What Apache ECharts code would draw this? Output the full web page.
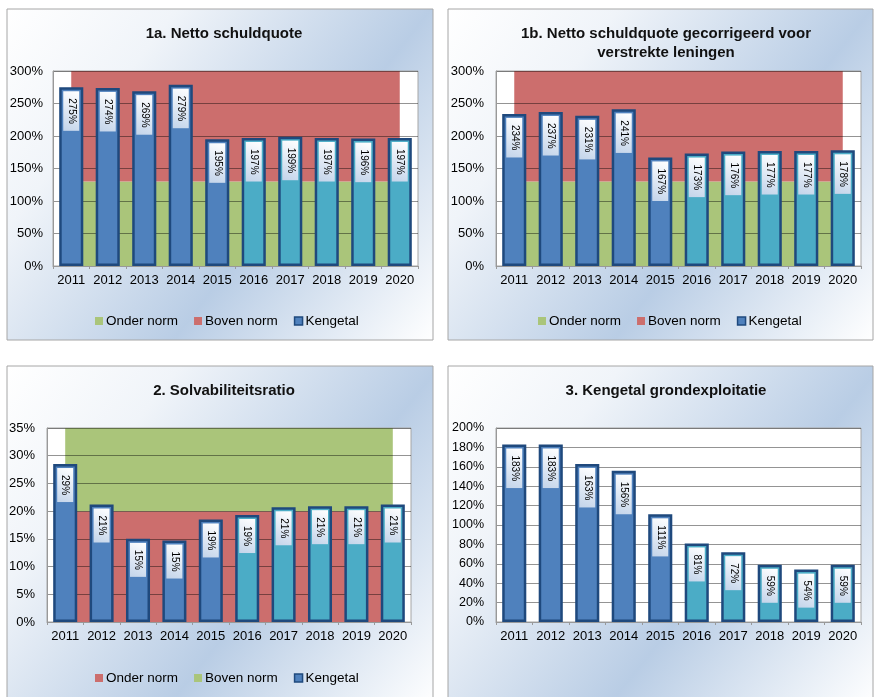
<!DOCTYPE html>
<html>
<head>
<meta charset="utf-8">
<script src="https://cdn.jsdelivr.net/npm/echarts@6/dist/echarts.min.js"></script>
<style>
html,body{margin:0;padding:0;background:#fff;}
#chart{width:875px;height:697px;}
</style>
</head>
<body>
<div id="chart"></div>
<script>
// ---------- DATA ----------
const categories = ['2011','2012','2013','2014','2015','2016','2017','2018','2019','2020'];

// 1a. Netto schuldquote
const kengetal1a = [275, 274, 269, 279, 195, 197, 199, 197, 196, 197];
const onderNorm1a = [130, 130, 130, 130, 130, 130, 130, 130, 130, 130];
const bovenNorm1a = [170, 170, 170, 170, 170, 170, 170, 170, 170, 170];

// 1b. Netto schuldquote gecorrigeerd voor verstrekte leningen
const kengetal1b = [234, 237, 231, 241, 167, 173, 176, 177, 177, 178];
const onderNorm1b = [130, 130, 130, 130, 130, 130, 130, 130, 130, 130];
const bovenNorm1b = [170, 170, 170, 170, 170, 170, 170, 170, 170, 170];

// 2. Solvabiliteitsratio
const kengetal2 = [28.5, 21.2, 15.0, 14.7, 18.5, 19.3, 20.7, 20.9, 20.9, 21.2];
const onderNorm2 = [20, 20, 20, 20, 20, 20, 20, 20, 20, 20];
const bovenNorm2 = [15, 15, 15, 15, 15, 15, 15, 15, 15, 15];

// 3. Kengetal grondexploitatie
const kengetal3 = [183, 183, 163, 156, 111, 81, 72, 59, 54, 59];

// first forecast year (drawn in the second colour)
const firstPrognoseYear = '2016';

const titles = ['1a. Netto schuldquote',
                '1b. Netto schuldquote gecorrigeerd voor\nverstrekte leningen',
                '2. Solvabiliteitsratio',
                '3. Kengetal grondexploitatie'];

// ---------- STYLE ----------
const FONT = "'Liberation Sans', Arial, sans-serif";
const BLUE = '#4F81BD', TEAL = '#4BACC6', NAVY = '#1F497D';
const GREEN = '#AAC57A', RED = '#CC6E6D';
const prognoseIdx = categories.indexOf(firstPrognoseYear);

function panelBg(x, y, w, h) {
  return {
    type: 'rect', z: -10, silent: true,
    shape: {x: x, y: y, width: w, height: h},
    style: {
      fill: {type: 'linear', x: 0, y: 0, x2: 1, y2: 1, colorStops: [
        {offset: 0, color: '#ffffff'},
        {offset: 0.25, color: '#f0f4f9'},
        {offset: 0.62, color: '#b9cde5'},
        {offset: 1, color: '#ffffff'}]},
      stroke: '#a6a6a6', lineWidth: 1
    }
  };
}

const grids = [
  {left: 53, top: 71, width: 365, height: 195},
  {left: 496, top: 71, width: 365, height: 195},
  {left: 47, top: 428, width: 364, height: 194},
  {left: 496, top: 428, width: 365, height: 194}
].map(g => Object.assign(g, {show: true, backgroundColor: '#ffffff', borderColor: '#a6a6a6', borderWidth: 1, z: 0}));

const yRanges = [
  {max: 300, interval: 50, margin: 10, fs: 13},
  {max: 300, interval: 50, margin: 12, fs: 13},
  {max: 35, interval: 5, margin: 12, fs: 13},
  {max: 200, interval: 20, margin: 12, fs: 12.5}
];

const xAxes = grids.map((g, i) => ({
  type: 'category', gridIndex: i, data: categories, z: 2,
  axisLine: {lineStyle: {color: '#999', width: 1}},
  axisTick: {show: true, length: 3, lineStyle: {color: '#999'}},
  axisLabel: {color: '#000', fontSize: 13, fontFamily: FONT, margin: 8, interval: 0}
}));

const yAxes = yRanges.map((r, i) => ({
  type: 'value', gridIndex: i, min: 0, max: r.max, interval: r.interval, z: 2,
  axisLine: {show: true, lineStyle: {color: '#999'}},
  axisTick: {show: false},
  splitLine: {show: true, lineStyle: {color: 'rgba(0,0,0,0.42)', width: 1}},
  axisLabel: {color: '#000', fontSize: r.fs, fontFamily: FONT, margin: r.margin, formatter: '{value}%'}
}));

const labelBg = {type: 'linear', x: 0, y: 0, x2: 1, y2: 1, colorStops: [
  {offset: 0, color: '#ffffff'}, {offset: 1, color: '#c3d4ea'}]};

function barSeries(i, values) {
  return {
    type: 'bar', name: 'Kengetal', xAxisIndex: i, yAxisIndex: i, z: 3,
    barWidth: '66%',
    itemStyle: {color: BLUE, borderColor: NAVY, borderWidth: 2.5},
    data: values.map((v, k) => ({value: v, itemStyle: {color: k >= prognoseIdx ? TEAL : BLUE}})),
    label: {
      show: true, position: 'insideTop', distance: 4, rotate: -90,
      align: 'left', verticalAlign: 'middle',
      formatter: p => Math.round(p.value) + '%',
      fontSize: 10, fontFamily: FONT, color: '#000',
      backgroundColor: labelBg, padding: [3, 7, 3, 7]
    },
    emphasis: {disabled: true}
  };
}

function bandSeries(i, name, values, color, stack) {
  return {
    type: 'line', name: name, xAxisIndex: i, yAxisIndex: i, z: 1,
    stack: stack, data: values, symbol: 'none', showSymbol: false,
    lineStyle: {width: 0}, itemStyle: {color: color},
    areaStyle: {color: color, opacity: 1},
    emphasis: {disabled: true}, silent: true
  };
}

function legend(left, top, items) {
  return {
    left: left, top: top, orient: 'horizontal', selectedMode: false,
    itemWidth: 8, itemHeight: 8, itemGap: 16,
    textStyle: {color: '#000', fontSize: 13.5, fontFamily: FONT, padding: [0, 0, 0, -2]},
    data: items
  };
}

const legendItems1 = [
  {name: 'Onder norm', icon: 'rect', itemStyle: {color: GREEN, borderWidth: 0}},
  {name: 'Boven norm', icon: 'rect', itemStyle: {color: RED, borderWidth: 0}},
  {name: 'Kengetal', icon: 'rect', itemStyle: {color: BLUE, borderColor: NAVY, borderWidth: 1.5}}
];
const legendItems2 = [
  {name: 'Onder norm', icon: 'rect', itemStyle: {color: RED, borderWidth: 0}},
  {name: 'Boven norm', icon: 'rect', itemStyle: {color: GREEN, borderWidth: 0}},
  {name: 'Kengetal', icon: 'rect', itemStyle: {color: BLUE, borderColor: NAVY, borderWidth: 1.5}}
];

const titleStyle = {color: '#111', fontSize: 15, fontWeight: 'bold', fontFamily: FONT, lineHeight: 19};

const option = {
  animation: false,
  backgroundColor: '#ffffff',
  graphic: [
    panelBg(7, 9, 426, 331),
    panelBg(448, 9, 425, 331),
    panelBg(7, 366, 426, 340),
    panelBg(448, 366, 425, 340)
  ],
  title: [
    {text: titles[0], left: 219, top: 19, textAlign: 'center', textStyle: titleStyle},
    {text: titles[1], left: 661, top: 19, textAlign: 'center', textStyle: titleStyle},
    {text: titles[2], left: 219, top: 376, textAlign: 'center', textStyle: titleStyle},
    {text: titles[3], left: 661, top: 376, textAlign: 'center', textStyle: titleStyle}
  ],
  legend: [
    legend(90, 309, legendItems1),
    legend(533, 309, legendItems1),
    legend(90, 666, legendItems2)
  ],
  grid: grids,
  xAxis: xAxes,
  yAxis: yAxes,
  series: [
    bandSeries(0, 'Onder norm', onderNorm1a, GREEN, 'a'),
    bandSeries(0, 'Boven norm', bovenNorm1a, RED, 'a'),
    barSeries(0, kengetal1a),
    bandSeries(1, 'Onder norm', onderNorm1b, GREEN, 'b'),
    bandSeries(1, 'Boven norm', bovenNorm1b, RED, 'b'),
    barSeries(1, kengetal1b),
    bandSeries(2, 'Onder norm', onderNorm2, RED, 'c'),
    bandSeries(2, 'Boven norm', bovenNorm2, GREEN, 'c'),
    barSeries(2, kengetal2),
    barSeries(3, kengetal3)
  ]
};

const chart = echarts.init(document.getElementById('chart'), null, {renderer: 'canvas'});
chart.setOption(option);
</script>
</body>
</html>
